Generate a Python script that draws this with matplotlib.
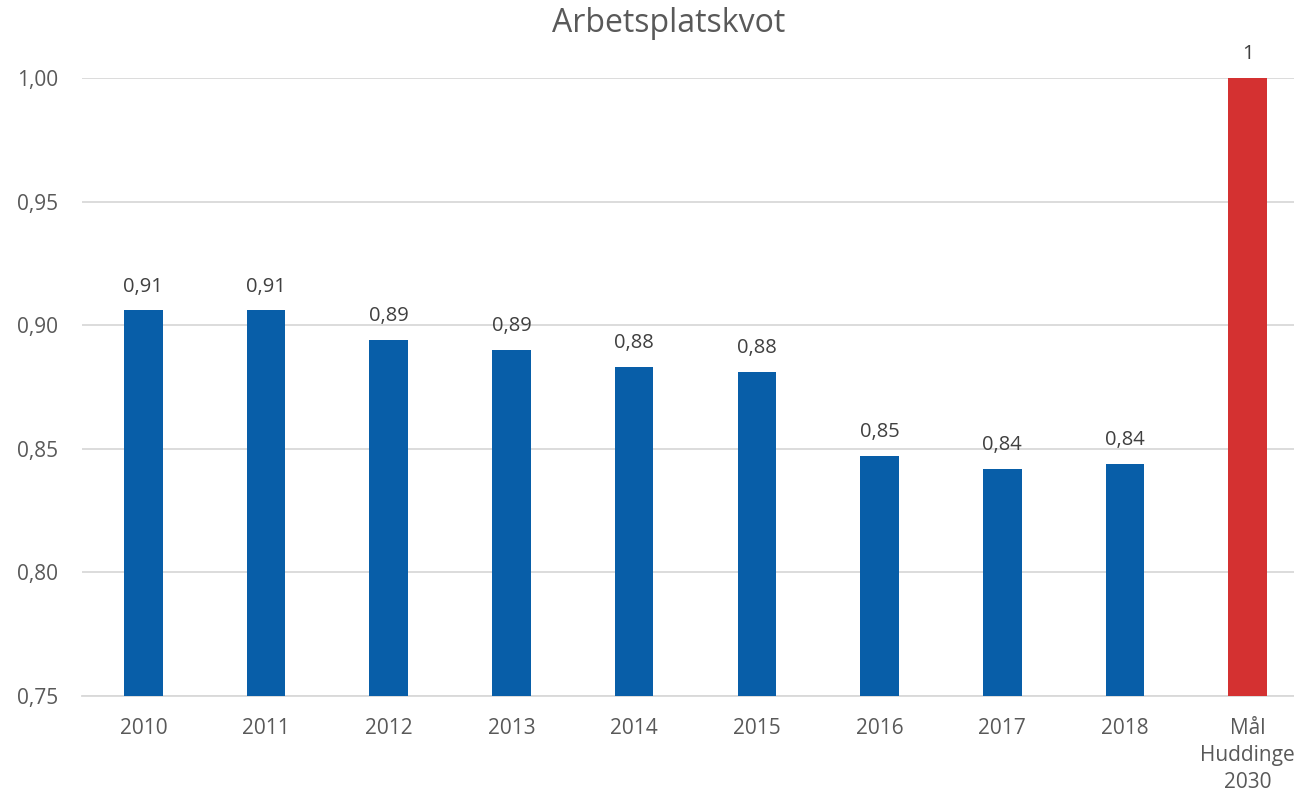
import matplotlib
matplotlib.use("Agg")
import matplotlib.pyplot as plt

categories = ["2010", "2011", "2012", "2013", "2014", "2015", "2016", "2017", "2018", "Mål\nHuddinge\n2030"]
values = [0.906, 0.906, 0.894, 0.890, 0.883, 0.881, 0.847, 0.842, 0.844, 1.00]
value_labels = ["0,91", "0,91", "0,89", "0,89", "0,88", "0,88", "0,85", "0,84", "0,84", "1"]
yticks = [0.75, 0.80, 0.85, 0.90, 0.95, 1.00]
ytick_labels = ["0,75", "0,80", "0,85", "0,90", "0,95", "1,00"]
colors = ["#085EA8"] * 9 + ["#D43131"]

plt.rcParams['font.family'] = ['Open Sans', 'DejaVu Sans']
text_color = "#595959"

W, H = 1294, 794
fig = plt.figure(figsize=(W / 100, H / 100), dpi=100)
ax = fig.add_axes([82 / W, 98 / H, 1227 / W, 618 / H])

x = list(range(len(categories)))
ax.bar(x, [v - 0.75 for v in values], bottom=0.75, width=0.314, color=colors, zorder=3)

for xi, v, lab in zip(x, values, value_labels):
    ax.annotate(lab, (xi, v), xytext=(0, 13.5), textcoords="offset points",
                ha="center", va="baseline", fontsize=14.5, color="#404040")

ax.set_xlim(-0.5, len(categories) - 0.5)
ax.set_ylim(0.75, 1.00)
ax.set_yticks(yticks)
ax.set_yticklabels(ytick_labels)
ax.set_xticks(x)
ax.set_xticklabels(categories, linespacing=1.38)
ax.tick_params(axis="y", length=0, pad=17, labelsize=15, labelcolor=text_color)
ax.tick_params(axis="x", length=0, pad=16, labelsize=15, labelcolor=text_color)
ax.grid(axis="y", color="#D9D9D9", linewidth=1.3, zorder=0)
for s in ["top", "right", "left"]:
    ax.spines[s].set_visible(False)
ax.spines["bottom"].set_color("#D9D9D9")
ax.spines["bottom"].set_linewidth(1.3)

fig.text(669 / W, 1 - 24 / H, "Arbetsplatskvot", ha="center", va="center",
         fontsize=23, color=text_color)

fig.savefig("out.png", dpi=100)
